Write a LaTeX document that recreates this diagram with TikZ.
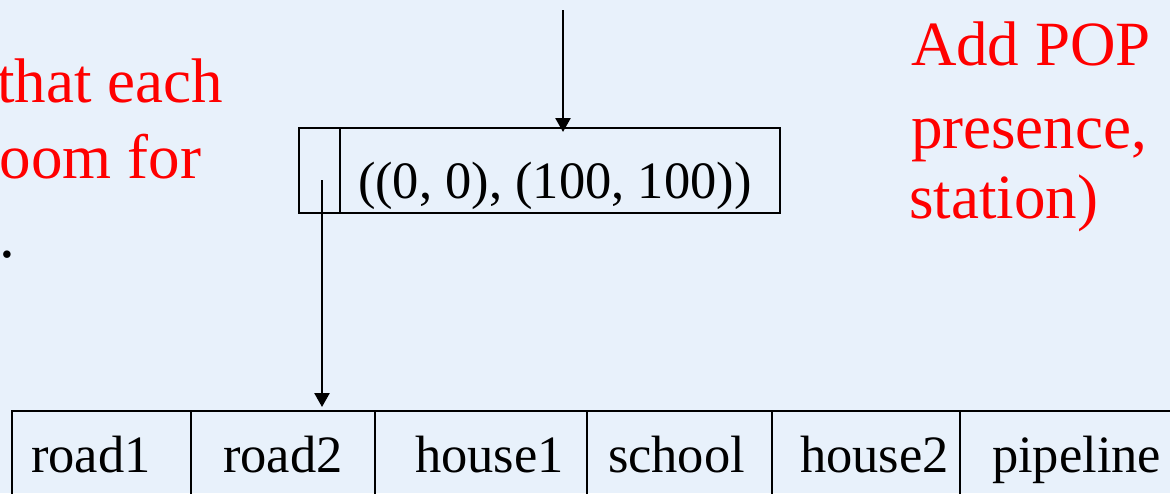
\documentclass[tikz,border=0pt]{standalone}
\usepackage{fontspec}
\setmainfont{Liberation Serif}
\usetikzlibrary{arrows.meta}
\definecolor{bgblue}{RGB}{232,241,251}
\definecolor{redtxt}{RGB}{255,0,0}
\begin{document}
\begin{tikzpicture}[x=1pt,y=-1pt,
  boxcell/.style={draw=black,line width=2.2pt,rectangle,inner sep=0pt,outer sep=0pt,minimum height=85pt},
  rowcell/.style={draw=black,line width=2.4pt,rectangle,inner sep=0pt,outer sep=0pt,minimum height=119pt},
  lbl/.style={anchor=base west,inner sep=0pt,outer sep=0pt,text=black,font=\fontsize{52.5}{60}\selectfont},
  redl/.style={inner sep=0pt,outer sep=0pt,text=redtxt,font=\fontsize{63}{76}\selectfont},
  arr/.style={draw=black,line width=2.6pt,-{Triangle[width=15pt,length=14pt]}}]
\useasboundingbox (0,0) rectangle (1170,493);
\clip (0,0) rectangle (1170,493);
\fill[bgblue] (0,0) rectangle (1170,493);

% red text, left (cut off)
\node[redl,anchor=base east] (lt1) at (223,102) {that each};
\node[redl,anchor=base east] (lt2) at (201,178) {oom for};
\node[redl,anchor=base west,text=black] (lt3) at (-1,257) {.};

% red text, right (cut off)
\node[redl,anchor=base west] (rt1) at (911,65) {Add POP};
\node[redl,anchor=base west] (rt2) at (911,148) {presence,};
\node[redl,anchor=base west] (rt3) at (909,218) {station)};

% top box
\node[boxcell,minimum width=41pt] (ptrcell) at (319.5,170.5) {};
\node[boxcell,minimum width=440pt] (valcell) at (560,170.5) {};
\node[lbl] (valtext) at (358,198) {((0, 0), (100, 100))};

% bottom row
\node[rowcell,minimum width=179pt] (c1) at (101.5,470.5) {};
\node[rowcell,minimum width=184pt] (c2) at (283,470.5) {};
\node[rowcell,minimum width=212pt] (c3) at (481,470.5) {};
\node[rowcell,minimum width=185pt] (c4) at (679.5,470.5) {};
\node[rowcell,minimum width=188pt] (c5) at (866,470.5) {};
\node[rowcell,minimum width=250pt] (c6) at (1085,470.5) {};

\node[lbl] (l1) at (31,472) {road1};
\node[lbl] (l2) at (223,472) {road2};
\node[lbl] (l3) at (415,472) {house1};
\node[lbl] (l4) at (608,472) {school};
\node[lbl] (l5) at (800,472) {house2};
\node[lbl] (l6) at (992,472) {pipeline};

% connectors
\coordinate (src) at (563,10);
\draw[arr] (src) -- ([yshift=-4pt]src |- valcell.north);
\coordinate (ptr) at (322,180);
\draw[arr] (ptr) -- ([yshift=4pt]ptr |- c2.north);
\end{tikzpicture}
\end{document}
